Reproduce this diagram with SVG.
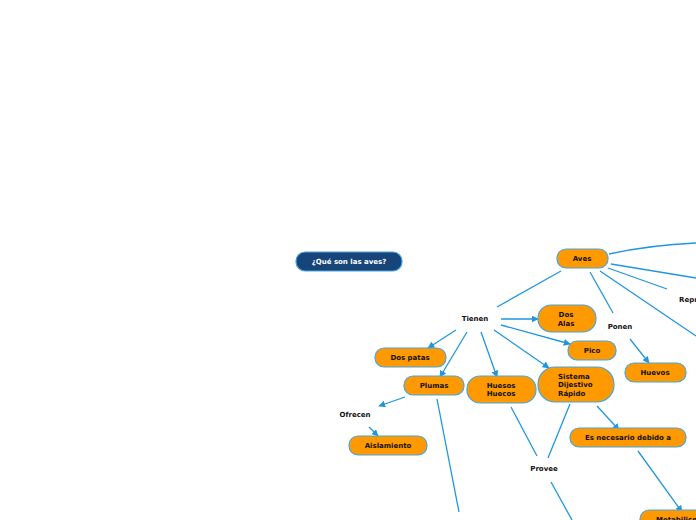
<svg xmlns="http://www.w3.org/2000/svg" width="696" height="520" viewBox="0 0 696 520">
<style>
.n{fill:#FF9900;stroke:#4AA6DE;stroke-width:1.2}
.d{fill:#17457A;stroke:#4AA6DE;stroke-width:1.2}
.t{font-family:"DejaVu Sans",Verdana,sans-serif;font-weight:bold;font-size:7px;fill:#111;text-anchor:middle}
.w{fill:#fff}
.c line,.c path{stroke:#2196E0;stroke-width:1.3;fill:none}
</style>
<defs>
<marker id="a" viewBox="0 0 10 10" refX="9" refY="5" markerWidth="7" markerHeight="7" orient="auto" markerUnits="userSpaceOnUse">
<path d="M0,0 L10,5 L0,10 z" fill="#2196E0"/>
</marker>
</defs>
<rect width="696" height="520" fill="#fff"/>
<g class="c">
<line x1="561" y1="271" x2="497" y2="307"/>
<line x1="590" y1="272" x2="613" y2="313"/>
<path d="M609,254 Q650,245 696,243"/>
<line x1="611" y1="264" x2="696" y2="278"/>
<line x1="608" y1="268" x2="667" y2="289"/>
<line x1="600" y1="271" x2="696" y2="336"/>
<line x1="501" y1="319" x2="538" y2="319" marker-end="url(#a)"/>
<line x1="501" y1="325" x2="570" y2="344" marker-end="url(#a)"/>
<line x1="494" y1="330" x2="549" y2="368" marker-end="url(#a)"/>
<line x1="481" y1="332" x2="497" y2="377" marker-end="url(#a)"/>
<line x1="467" y1="332" x2="440" y2="377" marker-end="url(#a)"/>
<line x1="456" y1="330" x2="428" y2="348" marker-end="url(#a)"/>
<line x1="630" y1="339" x2="649" y2="363" marker-end="url(#a)"/>
<line x1="405" y1="397" x2="379" y2="406" marker-end="url(#a)"/>
<line x1="369" y1="427" x2="378" y2="436" marker-end="url(#a)"/>
<line x1="437" y1="399" x2="459" y2="512"/>
<line x1="511" y1="407" x2="537" y2="456"/>
<line x1="570" y1="404" x2="548" y2="458"/>
<line x1="551" y1="482" x2="572" y2="520"/>
<line x1="597" y1="406" x2="619" y2="430" marker-end="url(#a)"/>
<line x1="638" y1="451" x2="682" y2="512" marker-end="url(#a)"/>
</g>
<g id="que"><rect class="d" x="296" y="252" width="106" height="19" rx="9"/><text class="t w" x="349" y="264">¿Qué son las aves?</text></g>
<g id="aves"><rect class="n" x="557" y="249" width="51" height="19" rx="9"/><text class="t" x="582" y="261">Aves</text></g>
<g id="tienen"><text class="t" x="475" y="321">Tienen</text></g>
<g id="ponen"><text class="t" x="620" y="329">Ponen</text></g>
<g id="repr"><text class="t" x="679" y="302" style="text-anchor:start">Reproducción</text></g>
<g id="dosalas"><rect class="n" x="538" y="305" width="58" height="27" rx="13"/><text class="t" x="566" y="317">Dos</text><text class="t" x="566" y="326">Alas</text></g>
<g id="pico"><rect class="n" x="568" y="341" width="48" height="19" rx="9"/><text class="t" x="592" y="353">Pico</text></g>
<g id="sistema"><rect class="n" x="538" y="367" width="76" height="35" rx="17"/><text class="t" x="558" y="379" style="text-anchor:start">Sistema</text><text class="t" x="558" y="387" style="text-anchor:start">Dijestivo</text><text class="t" x="558" y="396" style="text-anchor:start">Rápido</text></g>
<g id="huevos"><rect class="n" x="625" y="363" width="61" height="19" rx="9"/><text class="t" x="655" y="375">Huevos</text></g>
<g id="dospatas"><rect class="n" x="375" y="348" width="71" height="19" rx="9"/><text class="t" x="410" y="360">Dos patas</text></g>
<g id="plumas"><rect class="n" x="404" y="376" width="60" height="19" rx="9"/><text class="t" x="434" y="388">Plumas</text></g>
<g id="huesos"><rect class="n" x="467" y="376" width="69" height="27" rx="13"/><text class="t" x="501" y="388">Huesos</text><text class="t" x="501" y="396">Huecos</text></g>
<g id="ofrecen"><text class="t" x="355" y="417">Ofrecen</text></g>
<g id="aislamiento"><rect class="n" x="349" y="436" width="78" height="19" rx="9"/><text class="t" x="388" y="448">Aislamiento</text></g>
<g id="provee"><text class="t" x="544" y="471">Provee</text></g>
<g id="esnecesario"><rect class="n" x="570" y="428" width="116" height="19" rx="9"/><text class="t" x="628" y="440">Es necesario debido a</text></g>
<g id="metab"><rect class="n" x="640" y="510" width="80" height="19" rx="9"/><text class="t" x="656" y="522" style="text-anchor:start">Metabilismo</text></g>
</svg>
